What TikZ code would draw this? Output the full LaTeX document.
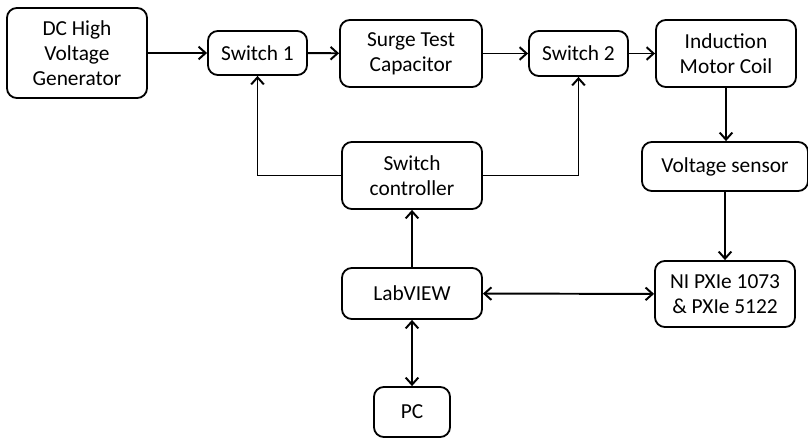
\documentclass[tikz,border=0pt]{standalone}
\usepackage{fontspec}
\setmainfont{Carlito}
\usepackage{tikz}
\usetikzlibrary{arrows.meta}

\tikzset{
  blk/.style={draw, line width=1.3pt, rounded corners=7pt, align=center,
    inner sep=2pt, font=\fontsize{15.2}{17.8}\selectfont},
  conn/.style={line width=1.4pt, -{Straight Barb[length=5pt,width=9pt]}},
  biconn/.style={line width=1.4pt, {Straight Barb[length=5pt,width=9pt]}-{Straight Barb[length=5pt,width=9pt]}}
}

\begin{document}
\begin{tikzpicture}[x=0.025cm,y=-0.025cm]
\useasboundingbox (0,0) rectangle (808,438);
% top row
\node[blk, minimum width=3.5cm, minimum height=2.25cm] (gen) at (77,53) {DC High\\Voltage\\Generator};
\node[blk, minimum width=2.475cm, minimum height=1.1cm] (sw1) at (257.5,53) {Switch 1};
\node[blk, minimum width=3.55cm, minimum height=1.675cm] (cap) at (411,53.5) {Surge Test\\Capacitor};
\node[blk, minimum width=2.475cm, minimum height=1.125cm] (sw2) at (578.5,53.5) {Switch 2};
\node[blk, minimum width=3.5cm, minimum height=1.675cm] (coil) at (726,53.5) {Induction\\Motor Coil};
% right column
\node[blk, minimum width=4.15cm, minimum height=1.225cm] (vsens) at (725,166.5) {Voltage sensor};
\node[blk, minimum width=3.5cm, minimum height=1.65cm] (ni) at (725,294) {NI PXIe 1073\\\& PXIe 5122};
% middle column
\node[blk, minimum width=3.5cm, minimum height=1.675cm] (ctrl) at (412,175.5) {Switch\\controller};
\node[blk, minimum width=3.5cm, minimum height=1.275cm] (lab) at (412,293.5) {LabVIEW};
\node[blk, minimum width=1.9cm, minimum height=1.25cm] (pc) at (412,412) {PC};

\draw[conn] (gen) -- (sw1);
\draw[conn] (sw1) -- (cap);
\draw[conn] (cap) -- (sw2);
\draw[conn] (sw2) -- (coil);
\draw[conn] (coil.south) -- (coil.south |- vsens.north);
\draw[conn] (vsens) -- (ni);
\draw[conn] (ctrl.west) -| (sw1.south);
\draw[conn] (ctrl.east) -| (sw2.south);
\draw[conn] (lab) -- (ctrl);
\draw[biconn] (lab) -- (ni);
\draw[biconn] (lab) -- (pc);
\end{tikzpicture}
\end{document}
